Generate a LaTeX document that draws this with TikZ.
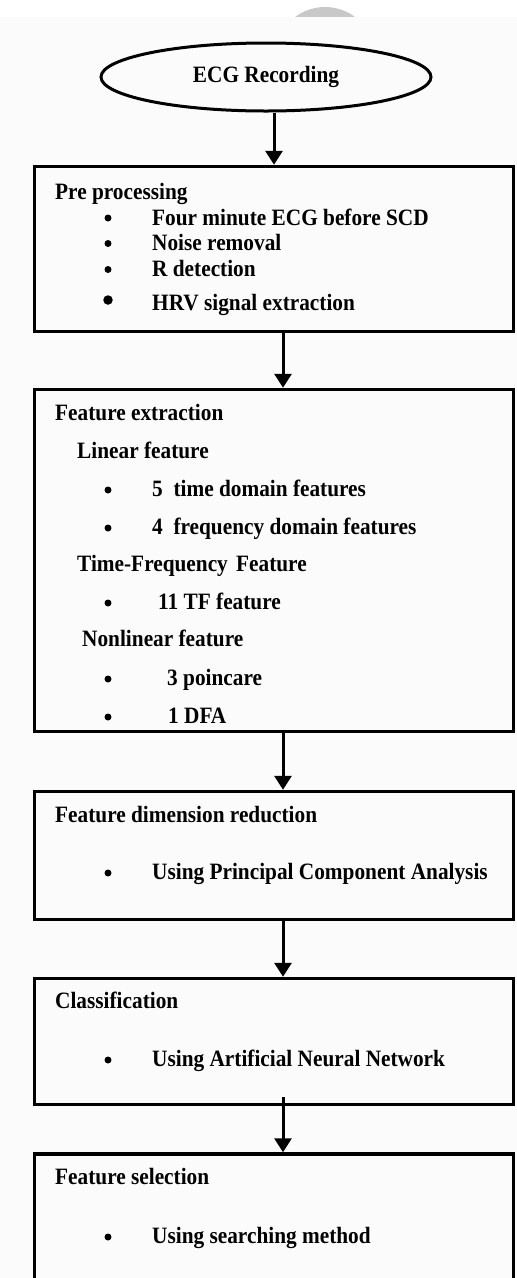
\documentclass[tikz,border=0pt]{standalone}
\usepackage{fontspec}
\usepackage{graphicx}
\setmainfont{Liberation Serif}
\usetikzlibrary{shapes.geometric,arrows.meta}
\definecolor{bgc}{RGB}{251,251,251}
\definecolor{spot}{RGB}{200,200,200}
\newcommand{\tx}[1]{\scalebox{1}[1.1]{#1}}
\begin{document}
\begin{tikzpicture}[x=1pt,y=-1pt,
  box/.style={draw=black, line width=3.5pt, minimum width=479pt, inner sep=0pt},
  ell/.style={ellipse, draw=black, line width=3pt, minimum width=330pt, minimum height=68pt, inner sep=0pt, font=\fontsize{21.3}{25}\selectfont\bfseries},
  txt/.style={anchor=base west, inner sep=0pt, font=\fontsize{21.3}{25}\selectfont\bfseries},
  dot/.style={circle, fill=black, inner sep=0pt, minimum size=7pt},
  bigdot/.style={dot, minimum size=9.5pt},
  arr/.style={line width=3pt, -{Triangle[width=17pt,length=14pt]}},
]
\clip (0,0) rectangle (517,1278);
\fill[white] (0,0) rectangle (517,1278);
\fill[spot] (325,57) circle (50pt);
\fill[bgc] (0,17) rectangle (517,1278);

% start ellipse
\node[ell] (rec) at (266,77) {\tx{ECG Recording}};

% boxes
\node[box, minimum height=165pt] (b1) at (274,249) {};
\node[box, minimum height=342pt] (b2) at (274,560.5) {};
\node[box, minimum height=128pt] (b3) at (274,855.5) {};
\node[box, minimum height=126pt] (b4) at (274,1041.5) {};
\node[box, minimum height=250pt] (b5) at (274,1279) {};

% arrows
\draw[arr] (b1.north |- rec.south) -- (b1.north);
\draw[arr] ([xshift=9pt]b1.south) -- ([xshift=9pt]b2.north);
\draw[arr] ([xshift=9pt]b2.south) -- ([xshift=9pt]b3.north);
\draw[arr] ([xshift=9pt]b3.south) -- ([xshift=9pt]b4.north);
\draw[arr] ([xshift=9pt,yshift=9pt]b4.south) -- ([xshift=9pt]b5.north);

% box 1
\node[txt] (h1) at (55,199) {\tx{Pre processing}};
\node[dot] (d11) at (108,218) {};
\node[txt] (i11) at (152,225) {\tx{Four minute ECG before SCD}};
\node[dot] (d12) at (108,243.5) {};
\node[txt] (i12) at (152,250) {\tx{Noise removal}};
\node[dot] (d13) at (108,269.5) {};
\node[txt] (i13) at (152,276) {\tx{R detection}};
\node[bigdot] (d14) at (108,300) {};
\node[txt] (i14) at (152,310) {\tx{HRV signal extraction}};

% box 2
\node[txt] (h2) at (55,420) {\tx{Feature extraction}};
\node[txt] (s21) at (77,458) {\tx{Linear feature}};
\node[dot] (d21) at (108,490) {};
\node[txt] (i21) at (152,496) {\tx{5\ \ time domain features}};
\node[dot] (d22) at (108,528) {};
\node[txt] (i22) at (152,534) {\tx{4\ \ frequency domain features}};
\node[txt] (s22) at (77,571) {\tx{Time-Frequency\hspace{3pt} Feature}};
\node[dot] (d23) at (108,603) {};
\node[txt] (i23) at (158,609) {\tx{11 TF feature}};
\node[txt] (s23) at (82,646) {\tx{Nonlinear feature}};
\node[dot] (d24) at (108,679) {};
\node[txt] (i24) at (167,685) {\tx{3 poincare}};
\node[dot] (d25) at (108,717) {};
\node[txt] (i25) at (168,723) {\tx{1 DFA}};

% box 3
\node[txt] (h3) at (55,822) {\tx{Feature dimension reduction}};
\node[dot] (d31) at (108,873) {};
\node[txt] (i31) at (152,879) {\tx{Using Principal Component Analysis}};

% box 4
\node[txt] (h4) at (55,1008) {\tx{Classification}};
\node[dot] (d41) at (108,1060) {};
\node[txt] (i41) at (152,1066) {\tx{Using Artificial Neural Network}};

% box 5
\node[txt] (h5) at (55,1184) {\tx{Feature selection}};
\node[dot] (d51) at (108,1237) {};
\node[txt] (i51) at (152,1243) {\tx{Using searching method}};
\end{tikzpicture}
\end{document}
